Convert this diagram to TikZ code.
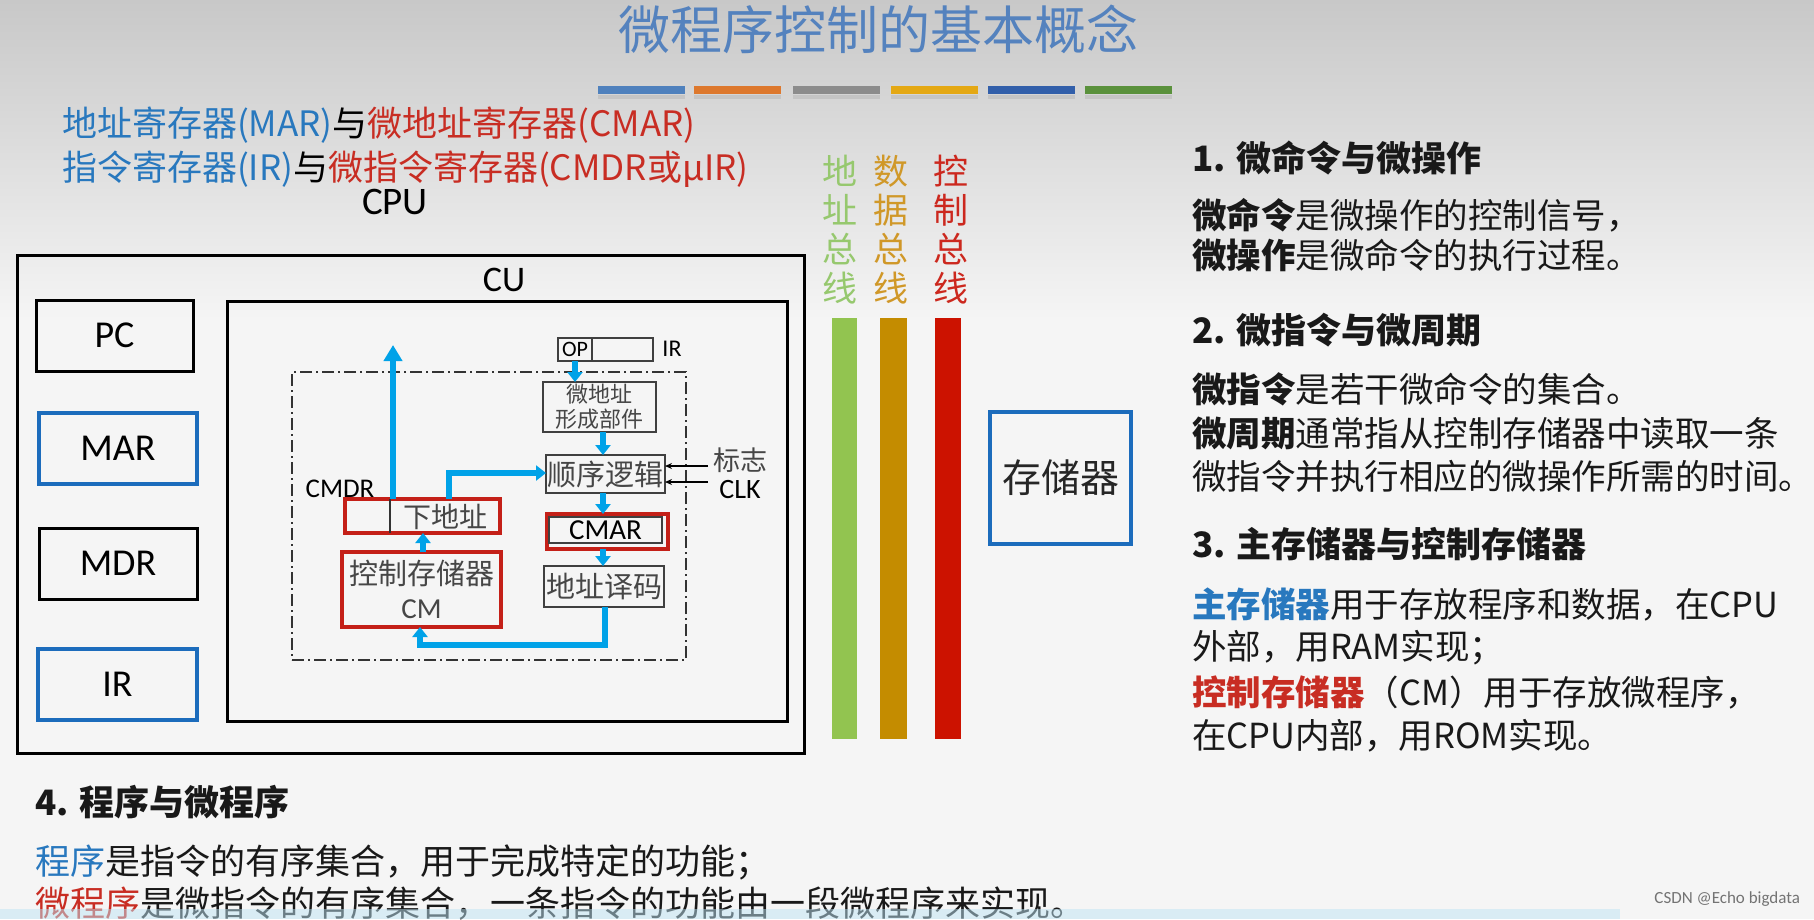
\documentclass[tikz,border=0pt]{standalone}
\usepackage{fontspec}
\setmainfont{Carlito}
\newfontfamily\cjk{Noto Sans CJK SC}
\usetikzlibrary{arrows.meta}
\definecolor{flowblue}{RGB}{0,162,232}
\definecolor{boxred}{RGB}{196,32,24}
\definecolor{boxblue}{RGB}{28,108,188}
\definecolor{titleblue}{RGB}{84,130,190}
\definecolor{txtblue}{RGB}{40,120,190}
\definecolor{txtred}{RGB}{200,45,35}
\definecolor{busgreen}{RGB}{146,196,80}
\definecolor{busgold}{RGB}{196,140,0}
\definecolor{busred}{RGB}{204,18,0}
\definecolor{lblgreen}{RGB}{150,200,110}
\definecolor{lblgold}{RGB}{208,152,40}
\definecolor{lblred}{RGB}{204,40,30}
\definecolor{graytxt}{RGB}{70,70,70}
\definecolor{bgtop}{RGB}{200,200,200}
\definecolor{bgbot}{RGB}{245,245,245}
\definecolor{cbA}{RGB}{79,129,189}
\definecolor{cbB}{RGB}{221,120,45}
\definecolor{cbC}{RGB}{140,140,140}
\definecolor{cbD}{RGB}{228,168,20}
\definecolor{cbE}{RGB}{50,95,170}
\definecolor{cbF}{RGB}{90,145,60}
\definecolor{bandblue}{RGB}{190,228,244}
\newcommand\fsz[1]{\fontsize{#1}{#1}\selectfont}
\begin{document}
\begin{tikzpicture}[x=1pt,y=-1pt,
  every node/.style={inner sep=0pt, outer sep=0pt},
  regbox/.style={draw=black, line width=3pt, font=\fsz{38}},
  bregbox/.style={draw=boxblue, line width=3.5pt, font=\fsz{38}},
  cell/.style={draw=black!75, line width=1.3pt},
  redcell/.style={draw=boxred, line width=3.5pt},
  flow/.style={draw=flowblue, line width=6pt, -{Triangle[width=15pt,length=10pt]}},
  zh/.style={font=\cjk\fsz{#1}},
  colorbar/.style={minimum width=87pt, minimum height=8pt},
  txt/.style={anchor=west, font=\cjk\fsz{34.5}, text=black!90},
  head/.style={anchor=west, font=\cjk\bfseries\fsz{35}, text=black!90},
]
\useasboundingbox (0,0) rectangle (1814,919);
% background
\shade[top color=bgtop, bottom color=bgbot] (0,0) rectangle (1814,320);
\fill[bgbot] (0,320) rectangle (1814,919);

% title
\node[zh=52, text=titleblue] (title) at (878,29) {微程序控制的基本概念};
\foreach \nm/\cx/\cc in {cb1/641.5/cbA, cb2/737.5/cbB, cb3/836/cbC, cb4/934.5/cbD, cb5/1031.5/cbE, cb6/1128.5/cbF}{
  \fill[black, opacity=0.08] (\cx-43.5,95) rectangle (\cx+43.5,99);
  \node[colorbar, fill=\cc] (\nm) at (\cx,90) {};
}

% top-left lines
\node[anchor=west, zh=35] (l1) at (62,125) {\textcolor{txtblue}{地址寄存器(MAR)}与\textcolor{txtred}{微地址寄存器(CMAR)}};
\node[anchor=west, zh=35] (l2) at (62,169) {\textcolor{txtblue}{指令寄存器(IR)}与\textcolor{txtred}{微指令寄存器(CMDR或μIR)}};
\node[font=\fsz{39}] (cpulbl) at (395,202) {CPU};

% CPU boxes
\node[regbox, minimum width=787pt, minimum height=498pt] (cpu) at (410.5,504) {};
\node[regbox, minimum width=560pt, minimum height=420pt] (cu) at (507,511) {};
\node[font=\fsz{36}] (culbl) at (504,280) {CU};
\node[regbox, minimum width=157pt, minimum height=71pt] (pc) at (114.5,335.5) {PC};
\node[bregbox, minimum width=158pt, minimum height=71pt] (mar) at (118,448.5) {MAR};
\node[regbox, minimum width=158pt, minimum height=71pt] (mdr) at (118,563.5) {MDR};
\node[bregbox, minimum width=159pt, minimum height=71pt] (ir) at (117.5,684.5) {IR};

% microprogram controller
\node[draw=black!80, line width=1.2pt, dash pattern=on 12pt off 4pt on 2pt off 4pt,
      minimum width=394pt, minimum height=288pt] (cmbox) at (489,516) {};
\node[cell, minimum width=34pt, minimum height=23pt, font=\fsz{22}] (op) at (575,349.5) {OP};
\node[cell, minimum width=61pt, minimum height=23pt] (irf) at (622.5,349.5) {};
\node[font=\fsz{24}] (irl) at (672,349) {IR};
\node[cell, minimum width=113pt, minimum height=50pt, font=\cjk\fontsize{22}{25}\selectfont,
      text=graytxt, align=center] (maddr) at (599.5,407) {微地址\\形成部件};
\node[cell, minimum width=119pt, minimum height=38pt, zh=29, text=graytxt] (seq) at (605.5,474) {顺序逻辑};
\node[redcell, minimum width=121pt, minimum height=35pt] (cmar) at (607.5,531.5) {};
\node[cell, minimum width=113pt, minimum height=26pt, font=\fsz{29}] (cmari) at (605.5,530) {CMAR};
\node[cell, minimum width=120pt, minimum height=41pt, zh=29, text=graytxt] (dec) at (604,586.5) {地址译码};
\node[redcell, minimum width=155pt, minimum height=34pt] (cmdr) at (422.5,516) {};
\coordinate (dv) at (390,0);
\draw[black!80, line width=1.3pt] (cmdr.north -| dv) -- (cmdr.south -| dv);
\node[zh=28, text=graytxt] (next) at (445,517) {下地址};
\node[font=\fsz{27}] (cmdrl) at (340,489) {CMDR};
\node[redcell, minimum width=159pt, minimum height=75pt, align=center, text=graytxt,
      font=\fontsize{29}{34}\selectfont] (cm) at (421.5,589.5) {{\cjk 控制存储器}\\CM};
\node[zh=27, text=graytxt] (flag) at (740,460) {标志};
\node[font=\fsz{28}] (clk) at (740,490) {CLK};

% flows
\coordinate (upx) at (393,345);
\draw[flow, -{Triangle[width=18pt,length=16pt]}] (cmdr.north -| upx) -- (upx);
\draw[flow] (op.south) -- (maddr.north -| op.south);
\coordinate (colx) at (603,0);
\draw[flow] (maddr.south -| colx) -- (seq.north -| colx);
\draw[flow] (seq.south -| colx) -- (cmar.north -| colx);
\draw[flow] (cmar.south -| colx) -- (dec.north -| colx);
\coordinate (c1) at (605,645);
\coordinate (c2) at (420,645);
\draw[flow] (dec.south -| c1) -- (c1) -- (c2) -- (cm.south -| c2);
\coordinate (c3) at (423,0);
\draw[flow] (cm.north -| c3) -- (cmdr.south -| c3);
\coordinate (c4) at (449,473);
\draw[flow] (cmdr.north -| c4) -- (c4) -- (seq.west |- c4);
\coordinate (f1) at (708,466);
\coordinate (f2) at (708,482);
\draw[black, line width=1.6pt, -{Stealth[length=7pt,width=6pt]}] (f1) -- (seq.east |- f1);
\draw[black, line width=1.6pt, -{Stealth[length=7pt,width=6pt]}] (f2) -- (seq.east |- f2);

% buses
\node[fill=busgreen, minimum width=25pt, minimum height=421pt] (abus) at (844.5,528.5) {};
\node[fill=busgold, minimum width=27pt, minimum height=421pt] (dbus) at (893.5,528.5) {};
\node[fill=busred, minimum width=26pt, minimum height=421pt] (cbus) at (948,528.5) {};
\node[font=\cjk\fontsize{35}{39}\selectfont, text=lblgreen, align=center] (abl) at (840,230) {地\\址\\总\\线};
\node[font=\cjk\fontsize{35}{39}\selectfont, text=lblgold, align=center] (dbl) at (891,230) {数\\据\\总\\线};
\node[font=\cjk\fontsize{35}{39}\selectfont, text=lblred, align=center] (cbl) at (951,230) {控\\制\\总\\线};

% memory
\node[draw=boxblue, line width=3.5pt, minimum width=141pt, minimum height=132pt, zh=39, text=black!85] (mem) at (1060.5,478) {存储器};

% right text
\node[head] (h1) at (1192,158) {1. 微命令与微操作};
\node[txt] (t11) at (1192,215) {\textbf{微命令}是微操作的控制信号，};
\node[txt] (t12) at (1192,255) {\textbf{微操作}是微命令的执行过程。};
\node[head] (h2) at (1192,330) {2. 微指令与微周期};
\node[txt] (t21) at (1192,389) {\textbf{微指令}是若干微命令的集合。};
\node[txt] (t22) at (1192,433) {\textbf{微周期}通常指从控制存储器中读取一条};
\node[txt] (t23) at (1192,476) {微指令并执行相应的微操作所需的时间。};
\node[head] (h3) at (1192,544) {3. 主存储器与控制存储器};
\node[txt] (t31) at (1192,604) {\textcolor{txtblue}{\textbf{主存储器}}用于存放程序和数据，在CPU};
\node[txt] (t32) at (1192,648) {外部，用RAM实现；};
\node[txt] (t33) at (1192,692) {\textcolor{txtred}{\textbf{控制存储器}}（CM）用于存放微程序，};
\node[txt] (t34) at (1192,736) {在CPU内部，用ROM实现。};

% bottom text
\node[head] (h4) at (35,802) {4. 程序与微程序};
\node[txt, font=\cjk\fsz{35}] (b1) at (35,862) {\textcolor{txtblue}{程序}是指令的有序集合，用于完成特定的功能；};
\node[txt, font=\cjk\fsz{35}] (b2) at (35,904) {\textcolor{txtred}{微程序}是微指令的有序集合，一条指令的功能由一段微程序来实现。};
\fill[bandblue, opacity=0.5] (0,909) rectangle (1620,919);

\node[anchor=east, font=\fsz{17}, text=black!55] (wm) at (1800,899) {CSDN @Echo bigdata};
\end{tikzpicture}
\end{document}
